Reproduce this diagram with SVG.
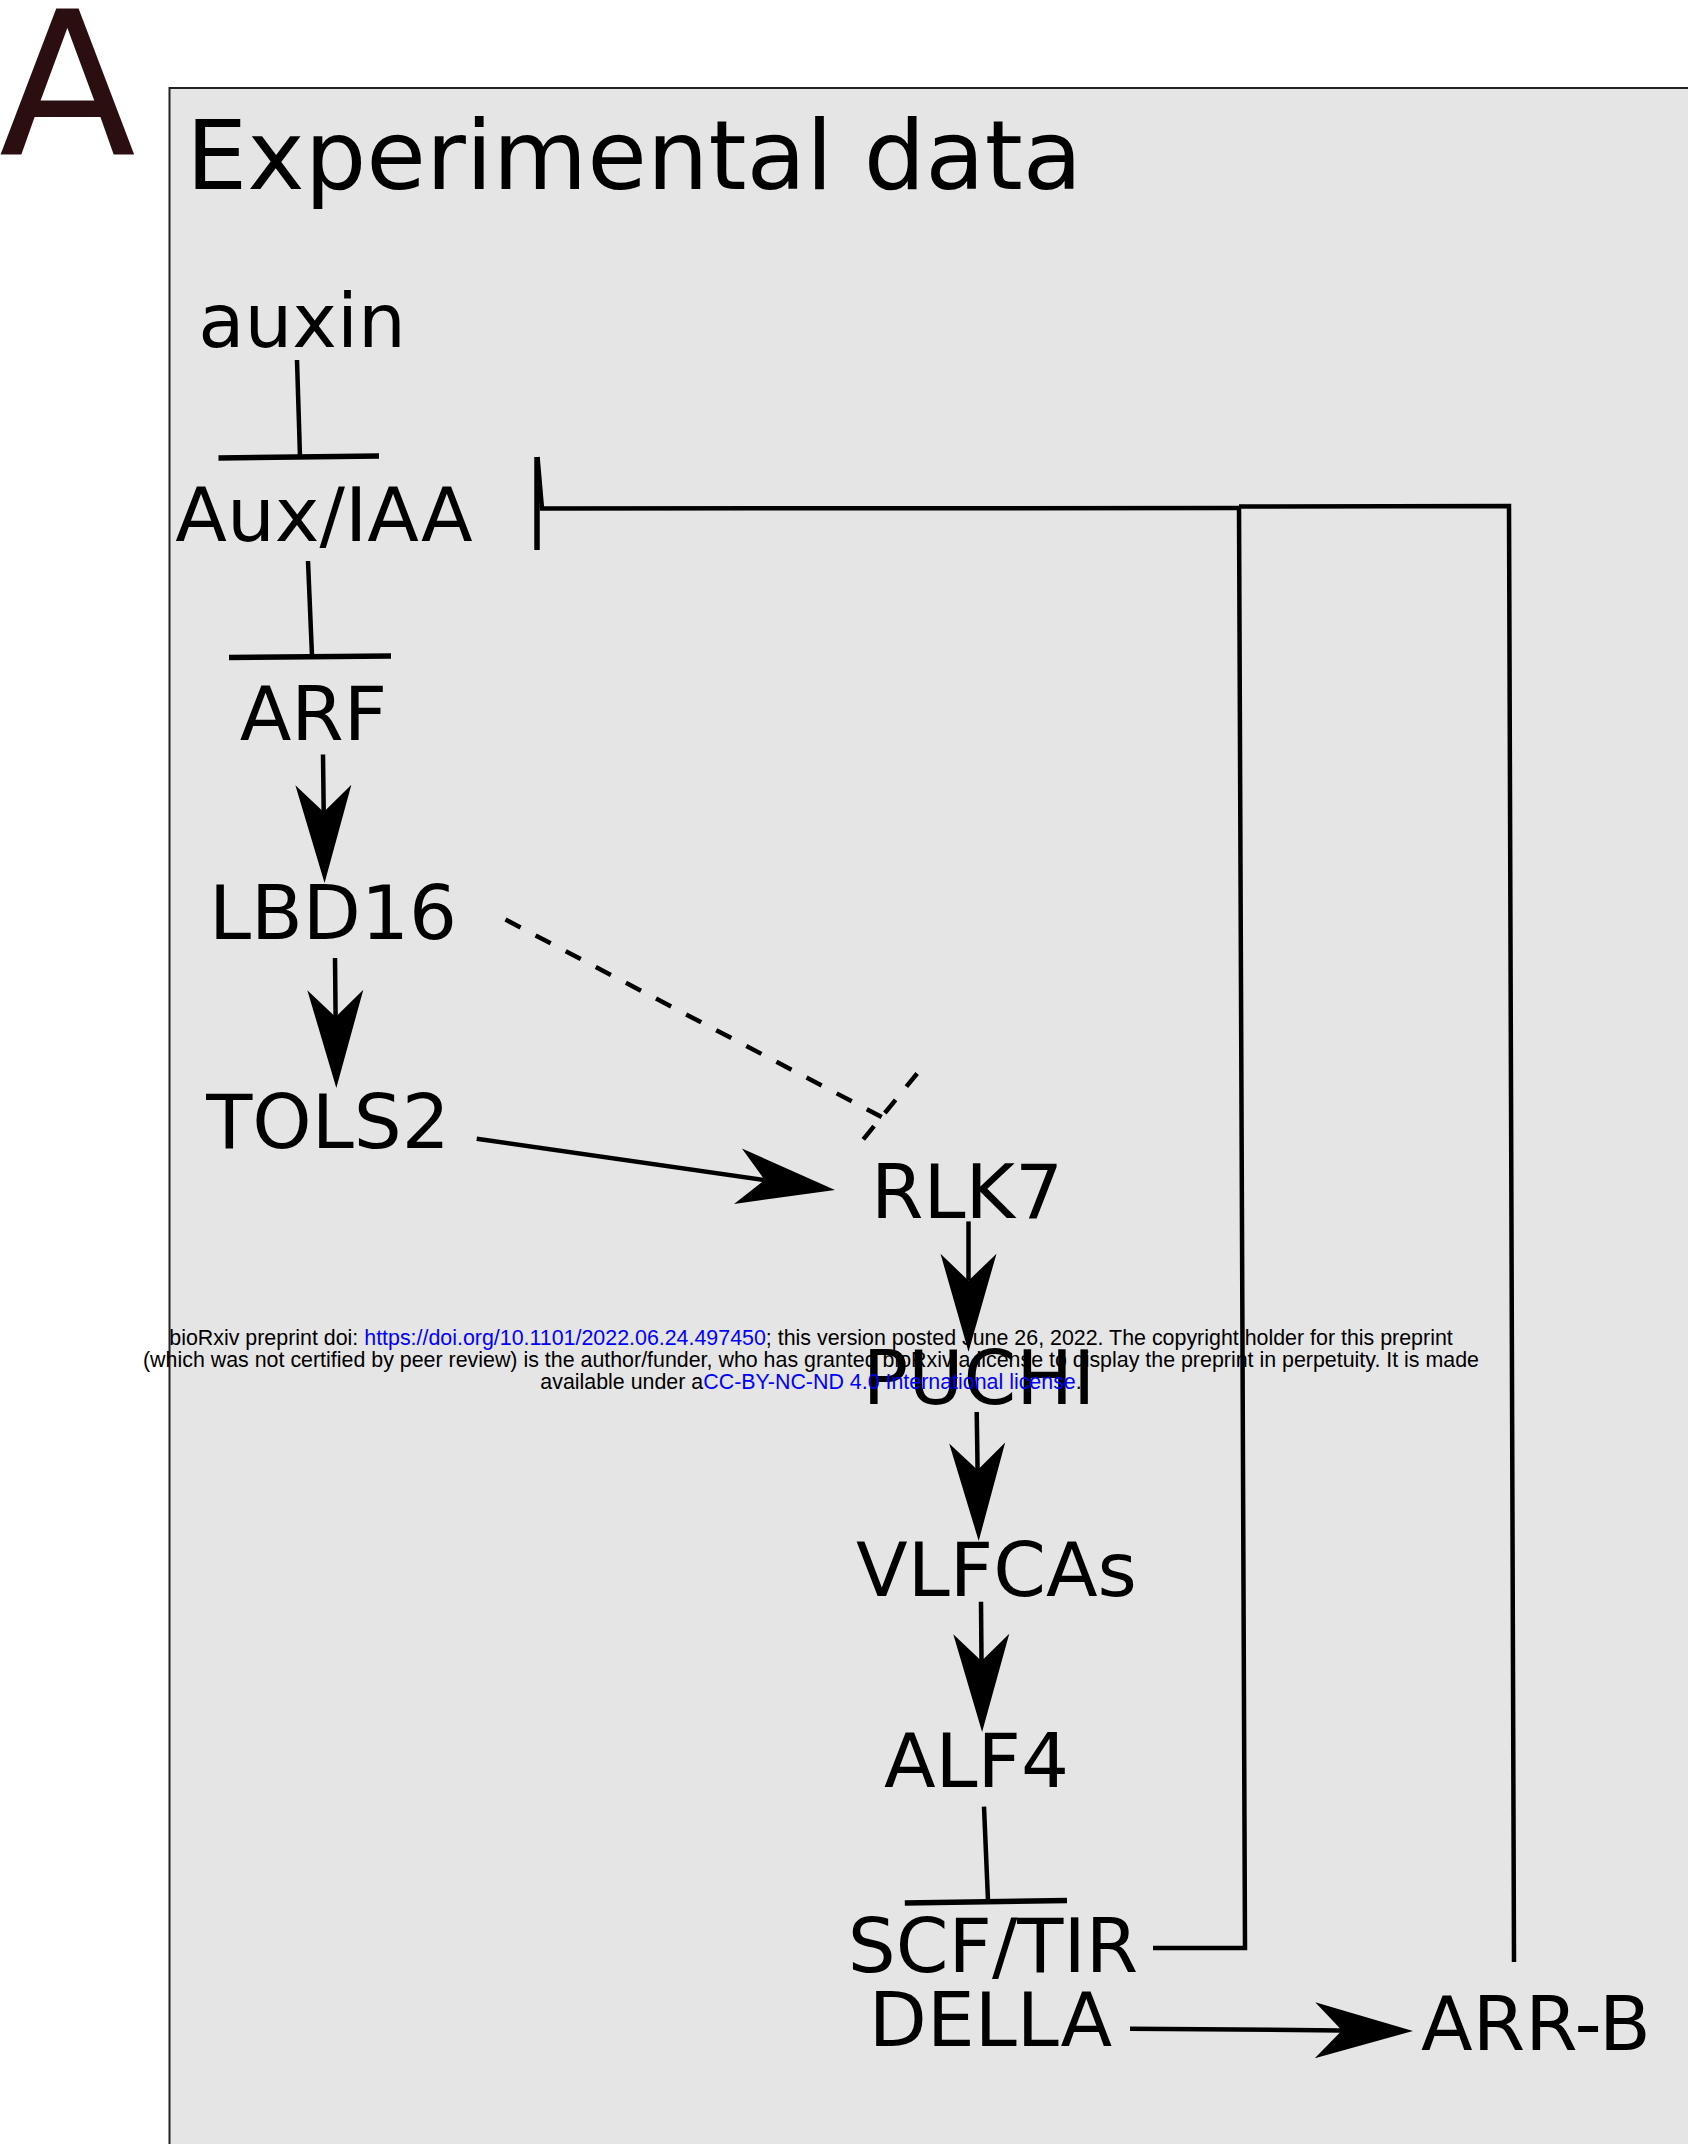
<svg xmlns="http://www.w3.org/2000/svg" width="1688" height="2144" viewBox="0 0 1688 2144">
<style>
.lbl{font-family:"DejaVu Sans",sans-serif;font-size:75.5px;fill:#000;text-anchor:middle}
.ln{fill:none;stroke:#000;stroke-width:4.5;stroke-linecap:butt;stroke-linejoin:miter}
.bar{fill:none;stroke:#000;stroke-width:5.5}
.wm{font-family:"Liberation Sans",Arial,sans-serif;font-size:21.4px;fill:#000;text-anchor:middle}
.lk{fill:#0000ff}
</style>
<defs>
<marker id="ah" markerUnits="userSpaceOnUse" orient="auto" markerWidth="120" markerHeight="80" viewBox="-30 -40 120 80" refX="0" refY="0">
<path d="M71,0 L-27,-28 L0,0 L-27,28 Z" fill="#000"/>
</marker>
</defs>
<rect x="0" y="0" width="1688" height="2144" fill="#fff"/>
<g id="panel">
<rect x="169.5" y="88" width="1530" height="2070" fill="#e5e5e5" stroke="#222" stroke-width="2"/>
<text x="-1" y="154" font-family="DejaVu Sans,sans-serif" font-size="200" fill="#2b0f10">A</text>
<text x="186" y="188.5" font-family="DejaVu Sans,sans-serif" font-size="97" fill="#000">Experimental data</text>
</g>
<g id="connectors">
<path class="ln" d="M297,360 L300,457"/>
<path class="bar" d="M218.5,458 L379,456"/>
<path class="ln" d="M308,561 L312,656"/>
<path class="bar" d="M229,657.5 L391,656"/>
<path class="ln" d="M323,754.5 L323.7,812" marker-end="url(#ah)"/>
<path class="ln" d="M335,958 L335.6,1017" marker-end="url(#ah)"/>
<path class="ln" d="M476.7,1138.8 L764.7,1180" marker-end="url(#ah)"/>
<path class="ln" d="M968.5,1221.4 L968.5,1280.7" marker-end="url(#ah)"/>
<path class="ln" d="M976.7,1412 L977.6,1470" marker-end="url(#ah)"/>
<path class="ln" d="M981,1601.7 L981.5,1661" marker-end="url(#ah)"/>
<path class="ln" d="M1130,2028.7 L1342,2030.4" marker-end="url(#ah)"/>
<path class="ln" d="M984,1806.6 L988,1900.6"/>
<path class="bar" d="M904.8,1903 L1067,1900.6"/>
<path class="ln" d="M505.5,919.6 L881.7,1117" stroke-dasharray="17,17" stroke-width="5"/>
<path class="ln" d="M863.3,1139.3 L917.3,1073.3" stroke-dasharray="17,17" stroke-width="5"/>
<path class="bar" d="M537,457 L537,550"/>
<path class="ln" d="M537.5,457 L542,508.5 L1239,508"/>
<path class="ln" d="M1239,506.5 L1509,506 L1514,1962"/>
<path class="ln" d="M1239,507 L1245,1948 L1153,1948"/>
</g>
<g id="n-auxin"><text class="lbl" x="302" y="347">auxin</text></g>
<g id="n-auxiaa"><text class="lbl" x="324" y="541">Aux/IAA</text></g>
<g id="n-arf"><text class="lbl" x="313.5" y="740">ARF</text></g>
<g id="n-lbd16"><text class="lbl" x="333" y="939">LBD16</text></g>
<g id="n-tols2"><text class="lbl" x="328" y="1148">TOLS2</text></g>
<g id="n-rlk7"><text class="lbl" x="967" y="1218">RLK7</text></g>
<g id="n-puchi"><text class="lbl" x="979" y="1404">PUCHI</text></g>
<g id="n-vlfcas"><text class="lbl" x="996.5" y="1595.5">VLFCAs</text></g>
<g id="n-alf4"><text class="lbl" x="976.5" y="1787">ALF4</text></g>
<g id="n-scftir"><text class="lbl" x="993" y="1972">SCF/TIR</text></g>
<g id="n-della"><text class="lbl" x="990.5" y="2046">DELLA</text></g>
<g id="n-arrb"><text class="lbl" x="1536" y="2050">ARR-B</text></g>
<g id="watermark">
<text class="wm" x="811" y="1345">bioRxiv preprint doi: <tspan class="lk">https://doi.org/10.1101/2022.06.24.497450</tspan>; this version posted June 26, 2022. The copyright holder for this preprint</text>
<text class="wm" x="811" y="1367">(which was not certified by peer review) is the author/funder, who has granted bioRxiv a license to display the preprint in perpetuity. It is made</text>
<text class="wm" x="811" y="1389">available under a<tspan class="lk">CC-BY-NC-ND 4.0 International license</tspan>.</text>
</g>
</svg>
